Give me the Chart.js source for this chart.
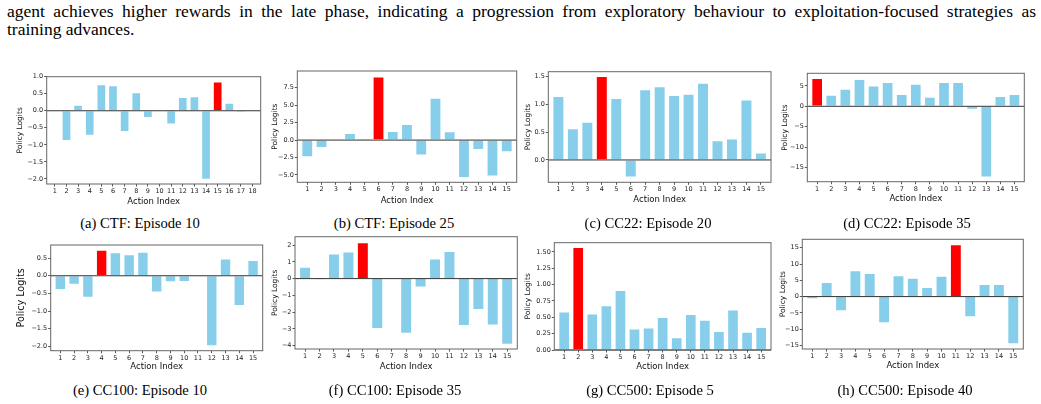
<!DOCTYPE html>
<html lang="en">
<head>
    <meta charset="UTF-8">
    <title>Policy Logits per Episode</title>
    <script src="https://cdn.jsdelivr.net/npm/chart.js"></script>
    <style>
        body {
            margin: 0;
            width: 1041px;
            height: 404px;
            background: #fff;
            position: relative;
            overflow: hidden;
        }
        .para {
            position: absolute;
            left: 7px;
            top: 3px;
            width: 1029px;
            font-family: "Liberation Serif", serif;
            font-size: 17.5px;
            line-height: 17.5px;
            color: #000;
        }
        .para .first {
            text-align: justify;
            text-align-last: justify;
        }
        .caption {
            position: absolute;
            width: 220px;
            text-align: center;
            font-family: "Liberation Serif", serif;
            font-size: 14.6px;
            line-height: 16px;
            color: #000;
        }
        canvas {
            position: absolute;
        }
    </style>
</head>
<body>
    <div class="para">
        <div class="first">agent achieves higher rewards in the late phase, indicating a progression from exploratory behaviour to exploitation-focused strategies as</div>
        <div>training advances.</div>
    </div>

    <script>
        // action indices
        const actions15 = [1, 2, 3, 4, 5, 6, 7, 8, 9, 10, 11, 12, 13, 14, 15];
        const actions18 = [1, 2, 3, 4, 5, 6, 7, 8, 9, 10, 11, 12, 13, 14, 15, 16, 17, 18];

        // policy logits
        const ctfEp10 = [0, -0.88, 0.17, -0.73, 0.77, 0.74, -0.62, 0.54, -0.21, 0, -0.40, 0.40, 0.42, -2.02, 0.85, 0.23, -0.05, 0];
        const ctfEp25 = [-2.43, -1.12, 0.03, 0.97, 0.24, 9.1, 1.26, 2.29, -2.19, 6.03, 1.22, -5.4, -1.41, -5.2, -1.7];
        const cc22Ep20 = [1.14, 0.565, 0.68, 1.5, 1.107, -0.31, 1.26, 1.315, 1.16, 1.18, 1.38, 0.35, 0.38, 1.077, 0.13];
        const cc22Ep35 = [6.9, 2.8, 4.26, 6.64, 5.08, 5.9, 2.95, 5.5, 2.3, 5.9, 5.9, -0.82, -17.4, 2.46, 2.95];
        const cc100Ep10 = [-0.40, -0.25, -0.62, 0.73, 0.66, 0.60, 0.67, -0.47, -0.18, -0.17, 0, -1.99, 0.48, -0.85, 0.44];
        const cc100Ep35 = [0.70, -0.06, 1.48, 1.6, 2.16, -3.0, -0.04, -3.28, -0.52, 1.18, 1.64, -2.82, -1.86, -2.78, -3.94];
        const cc500Ep5 = [0.587, 1.57, 0.556, 0.68, 0.913, 0.327, 0.342, 0.5, 0.19, 0.546, 0.46, 0.286, 0.617, 0.276, 0.347];
        const cc500Ep40 = [-0.72, 4.42, -4.42, 8.0, 7.2, -8.1, 6.47, 5.76, 2.88, 6.37, 16.0, -6.27, 3.8, 3.8, -14.6];

        // y tick labels per panel
        const ticksCtf10 = [-2.0, -1.5, -1.0, -0.5, 0.0, 0.5, 1.0];
        const ticksCtf25 = [-5.0, -2.5, 0.0, 2.5, 5.0, 7.5];
        const ticksCc22a = [0.0, 0.5, 1.0, 1.5];
        const ticksCc22b = [-15, -10, -5, 0, 5];
        const ticksCc100a = [-2.0, -1.5, -1.0, -0.5, 0.0, 0.5];
        const ticksCc100b = [-4, -3, -2, -1, 0, 1, 2];
        const ticksCc500a = [0.00, 0.25, 0.50, 0.75, 1.00, 1.25, 1.50];
        const ticksCc500b = [-15, -10, -5, 0, 5, 10, 15];

        const captions = [
            '(a) CTF: Episode 10', '(b) CTF: Episode 25', '(c) CC22: Episode 20', '(d) CC22: Episode 35',
            '(e) CC100: Episode 10', '(f) CC100: Episode 35', '(g) CC500: Episode 5', '(h) CC500: Episode 40'
        ];

        const panels = [
            { labels: actions18, values: ctfEp10, ticks: ticksCtf10, dec: 1, min: -2.15, max: 1.0,
              L: 46.7, R: 260.7, T: 76.7, B: 184, yTitleX: 20.7, xTitleY: 201.7, yFont: 7.5, capX: 140, capY: 223 },
            { labels: actions15, values: ctfEp25, ticks: ticksCtf25, dec: 1, min: -6.05, max: 9.9,
              L: 297.3, R: 516.7, T: 71, B: 182.3, yTitleX: 275, xTitleY: 200.7, yFont: 7.5, capX: 394, capY: 223 },
            { labels: actions15, values: cc22Ep20, ticks: ticksCc22a, dec: 1, min: -0.40, max: 1.58,
              L: 548.3, R: 771, T: 71.7, B: 182.3, yTitleX: 528.5, xTitleY: 200.3, yFont: 7.5, capX: 648, capY: 223 },
            { labels: actions15, values: cc22Ep35, ticks: ticksCc22b, dec: 0, min: -18.5, max: 8.1,
              L: 807.3, R: 1024.3, T: 73.3, B: 181.7, yTitleX: 785, xTitleY: 199.3, yFont: 7.5, capX: 907, capY: 223 },
            { labels: actions15, values: cc100Ep10, ticks: ticksCc100a, dec: 1, min: -2.12, max: 0.87,
              L: 50.7, R: 262.7, T: 245, B: 350.7, yTitleX: 22, xTitleY: 367, yFont: 9.6, capX: 140, capY: 390 },
            { labels: actions15, values: cc100Ep35, ticks: ticksCc100b, dec: 0, min: -4.2, max: 2.5,
              L: 295, R: 517.3, T: 236.7, B: 349, yTitleX: 275, xTitleY: 367, yFont: 7.5, capX: 395, capY: 390 },
            { labels: actions15, values: cc500Ep5, ticks: ticksCc500a, dec: 2, min: 0, max: 1.64,
              L: 554.3, R: 771, T: 242.7, B: 350, yTitleX: 528, xTitleY: 367, yFont: 7.5, capX: 650, capY: 390 },
            { labels: actions15, values: cc500Ep40, ticks: ticksCc500b, dec: 0, min: -16.1, max: 17.6,
              L: 802.3, R: 1023.3, T: 239.3, B: 349, yTitleX: 783, xTitleY: 366, yFont: 7.5, capX: 905, capY: 390 }
        ];

        // zero line + full box like matplotlib spines
        const framePlugin = {
            id: 'frame',
            afterDatasetsDraw(chart) {
                const { ctx, chartArea: a, scales } = chart;
                const y0 = scales.y.getPixelForValue(0);
                ctx.save();
                ctx.strokeStyle = '#333';
                ctx.lineWidth = 1;
                ctx.beginPath();
                ctx.moveTo(a.left, y0);
                ctx.lineTo(a.right, y0);
                ctx.stroke();
                ctx.strokeStyle = '#666';
                ctx.strokeRect(a.left, a.top, a.right - a.left, a.bottom - a.top);
                ctx.restore();
            }
        };

        const tickFont = { family: 'DejaVu Sans', size: 6.5 };
        const fmt = (v, dec) => {
            const s = Math.abs(v).toFixed(dec);
            return v < 0 ? '\u2212' + s : s;
        };

        panels.forEach((p, i) => {
            const yLH = p.yFont * 1.2;
            const xLH = 8.5 * 1.2;
            const left = Math.round(p.yTitleX - yLH / 2);
            const top = Math.round(p.T - 8);
            const right = Math.round(p.R + 8);
            const bottom = Math.round(p.xTitleY + xLH / 2);
            const yAxisW = p.L - left;
            const xAxisH = bottom - p.B;

            const canvas = document.createElement('canvas');
            canvas.width = right - left;
            canvas.height = bottom - top;
            canvas.style.left = left + 'px';
            canvas.style.top = top + 'px';
            document.body.appendChild(canvas);

            const cap = document.createElement('div');
            cap.className = 'caption';
            cap.textContent = captions[i];
            cap.style.left = (p.capX - 110) + 'px';
            cap.style.top = (p.capY - 8) + 'px';
            document.body.appendChild(cap);

            const maxVal = Math.max(...p.values);
            const colors = p.values.map(v => v === maxVal ? '#ff0000' : '#87ceeb');

            new Chart(canvas, {
                type: 'bar',
                data: {
                    labels: p.labels,
                    datasets: [{
                        data: p.values,
                        backgroundColor: colors,
                        borderColor: '#ffffff',
                        borderWidth: 0.8,
                        categoryPercentage: 1.0,
                        barPercentage: 0.8
                    }]
                },
                options: {
                    responsive: false,
                    animation: false,
                    layout: { padding: { top: p.T - top, right: right - p.R, left: 0, bottom: 0 } },
                    plugins: {
                        legend: { display: false },
                        tooltip: { enabled: false }
                    },
                    scales: {
                        x: {
                            type: 'linear',
                            offset: false,
                            min: 0.3,
                            max: p.labels.length + 0.7,
                            afterBuildTicks: s => { s.ticks = p.labels.map(v => ({ value: v })); },
                            afterFit: s => { s.height = xAxisH; },
                            border: { display: false },
                            grid: { offset: false, drawOnChartArea: false, drawTicks: true, tickLength: 2.5, tickColor: '#555' },
                            ticks: { font: tickFont, color: '#222', padding: 1, maxRotation: 0, autoSkip: false,
                                     callback: v => String(v) },
                            title: { display: true, text: 'Action Index', color: '#111', padding: 0,
                                     font: { family: 'DejaVu Sans', size: 8.5 } }
                        },
                        y: {
                            min: p.min,
                            max: p.max,
                            afterBuildTicks: s => { s.ticks = p.ticks.map(v => ({ value: v })); },
                            afterFit: s => { s.width = yAxisW; },
                            border: { display: false },
                            grid: { drawOnChartArea: false, drawTicks: true, tickLength: 2.5, tickColor: '#555' },
                            ticks: { font: tickFont, color: '#222', padding: 1, callback: v => fmt(v, p.dec) },
                            title: { display: true, text: 'Policy Logits', color: '#111', padding: 0,
                                     font: { family: 'DejaVu Sans', size: p.yFont } }
                        }
                    }
                },
                plugins: [framePlugin]
            });
        });
    </script>
</body>
</html>
